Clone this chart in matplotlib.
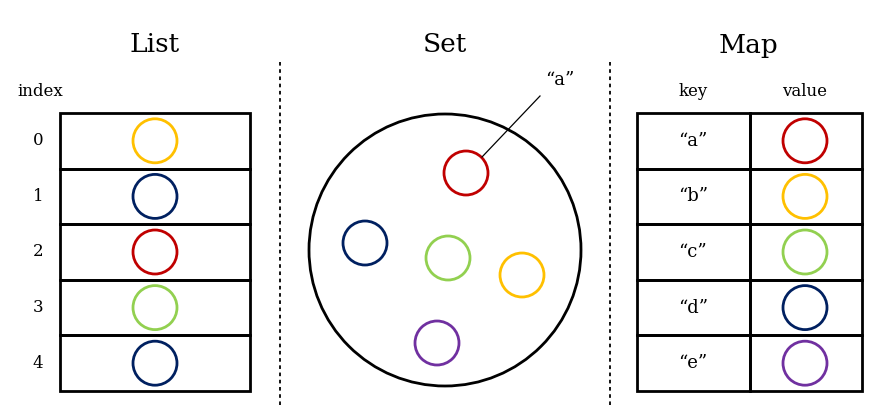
import matplotlib.pyplot as plt
from matplotlib.patches import Circle, Rectangle

# Colours
YELLOW, NAVY, RED, GREEN, PURPLE = "#FFC000", "#002060", "#C00000", "#92D050", "#7030A0"

list_index = ["0", "1", "2", "3", "4"]
list_colors = [YELLOW, NAVY, RED, GREEN, NAVY]
set_colors = [RED, NAVY, GREEN, YELLOW, PURPLE]
set_xy = [(466, 173), (365, 243), (448, 258), (522, 275), (437, 343)]
map_keys = ["\u201ca\u201d", "\u201cb\u201d", "\u201cc\u201d", "\u201cd\u201d", "\u201ee\u201d".replace("\u201e", "\u201c")]
map_colors = [RED, YELLOW, GREEN, NAVY, PURPLE]

W, H = 873, 407
fig = plt.figure(figsize=(W / 100, H / 100), dpi=100)
ax = fig.add_axes([0, 0, 1, 1])
ax.set_xlim(0, W)
ax.set_ylim(H, 0)
ax.set_aspect("equal")
ax.axis("off")
font = dict(family="DejaVu Serif")

row_top, row_h = 113, 55.6
r = 22

# Titles
for x, t in [(155, "List"), (445, "Set"), (748, "Map")]:
    ax.text(x, 45, t, ha="center", va="center", fontsize=19, **font)

# Dashed separators
for x in (280, 610):
    ax.plot([x, x], [62, 405], ls=(0, (2, 2)), color="black", lw=1.3)

# List
ax.text(40, 92, "index", ha="center", va="center", fontsize=12, **font)
for i, (lab, c) in enumerate(zip(list_index, list_colors)):
    y = row_top + i * row_h
    ax.add_patch(Rectangle((60, y), 190, row_h, fill=False, lw=2, ec="black"))
    ax.add_patch(Circle((155, y + row_h / 2), r, fill=False, lw=2, ec=c))
    ax.text(38, y + row_h / 2, lab, ha="center", va="center", fontsize=12, **font)

# Set
ax.add_patch(Circle((445, 250), 136, fill=False, lw=2, ec="black"))
for (x, y), c in zip(set_xy, set_colors):
    ax.add_patch(Circle((x, y), r, fill=False, lw=2, ec=c))
ax.plot([482, 540], [157, 96], color="black", lw=0.9)
ax.text(560, 80, "\u201ca\u201d", ha="center", va="center", fontsize=13, **font)

# Map
ax.text(693, 92, "key", ha="center", va="center", fontsize=12, **font)
ax.text(805, 92, "value", ha="center", va="center", fontsize=12, **font)
for i, (k, c) in enumerate(zip(map_keys, map_colors)):
    y = row_top + i * row_h
    ax.add_patch(Rectangle((637, y), 113, row_h, fill=False, lw=2, ec="black"))
    ax.add_patch(Rectangle((750, y), 112, row_h, fill=False, lw=2, ec="black"))
    ax.add_patch(Circle((805, y + row_h / 2), r, fill=False, lw=2, ec=c))
    ax.text(693, y + row_h / 2, k, ha="center", va="center", fontsize=13, **font)

fig.savefig("out.png", dpi=100)
